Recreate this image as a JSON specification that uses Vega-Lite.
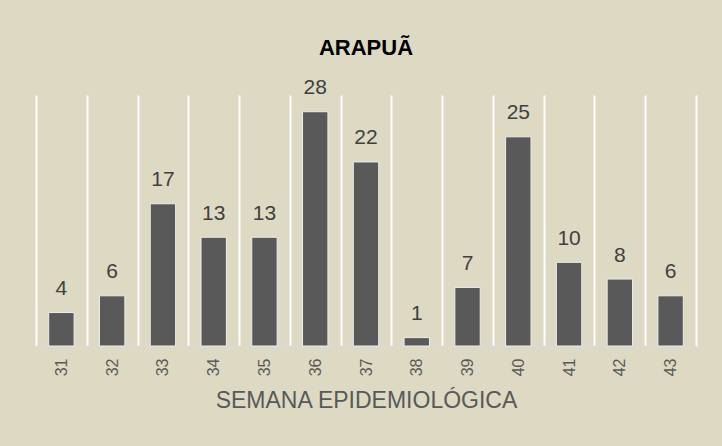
{
  "$schema": "https://vega.github.io/schema/vega-lite/v6.json",
  "autosize": "none",
  "width": 660,
  "height": 251,
  "padding": {"left": 36, "top": 95, "right": 26, "bottom": 100},
  "background": "#DDD9C3",
  "title": {
    "text": "ARAPUÃ",
    "font": "Liberation Sans",
    "fontSize": 22,
    "fontWeight": "bold",
    "color": "#000000",
    "anchor": "middle",
    "frame": "group",
    "baseline": "alphabetic",
    "offset": 0
  },
  "data": {
    "values": [
      {"semana": "31", "casos": 4},
      {"semana": "32", "casos": 6},
      {"semana": "33", "casos": 17},
      {"semana": "34", "casos": 13},
      {"semana": "35", "casos": 13},
      {"semana": "36", "casos": 28},
      {"semana": "37", "casos": 22},
      {"semana": "38", "casos": 1},
      {"semana": "39", "casos": 7},
      {"semana": "40", "casos": 25},
      {"semana": "41", "casos": 10},
      {"semana": "42", "casos": 8},
      {"semana": "43", "casos": 6}
    ]
  },
  "encoding": {
    "x": {
      "field": "semana",
      "type": "ordinal",
      "sort": null,
      "scale": {"paddingInner": 0, "paddingOuter": 0},
      "axis": {
        "title": "SEMANA EPIDEMIOLÓGICA",
        "titleFont": "Liberation Sans",
        "titleFontSize": 23,
        "titleFontWeight": "normal",
        "titleColor": "#595959",
        "titlePadding": 14,
        "labelFont": "Liberation Sans",
        "labelFontSize": 16,
        "labelColor": "#595959",
        "labelAngle": -90,
        "labelPadding": 12,
        "ticks": false,
        "domainColor": "#D9D9D9",
        "domainWidth": 2,
        "grid": true,
        "gridColor": "#FFFFFF",
        "gridWidth": 2,
        "gridOpacity": 1,
        "tickBand": "extent"
      }
    },
    "y": {
      "field": "casos",
      "type": "quantitative",
      "scale": {"domain": [0, 30], "nice": false},
      "axis": null
    }
  },
  "layer": [
    {
      "mark": {"type": "bar", "color": "#595959", "stroke": "#EDEDED", "strokeWidth": 1, "width": {"band": 0.5}}
    },
    {
      "mark": {
        "type": "text",
        "font": "Liberation Sans",
        "fontSize": 21,
        "color": "#404040",
        "baseline": "alphabetic",
        "dy": -17.5
      },
      "encoding": {"text": {"field": "casos", "type": "quantitative"}}
    }
  ],
  "config": {"view": {"stroke": null}}
}
